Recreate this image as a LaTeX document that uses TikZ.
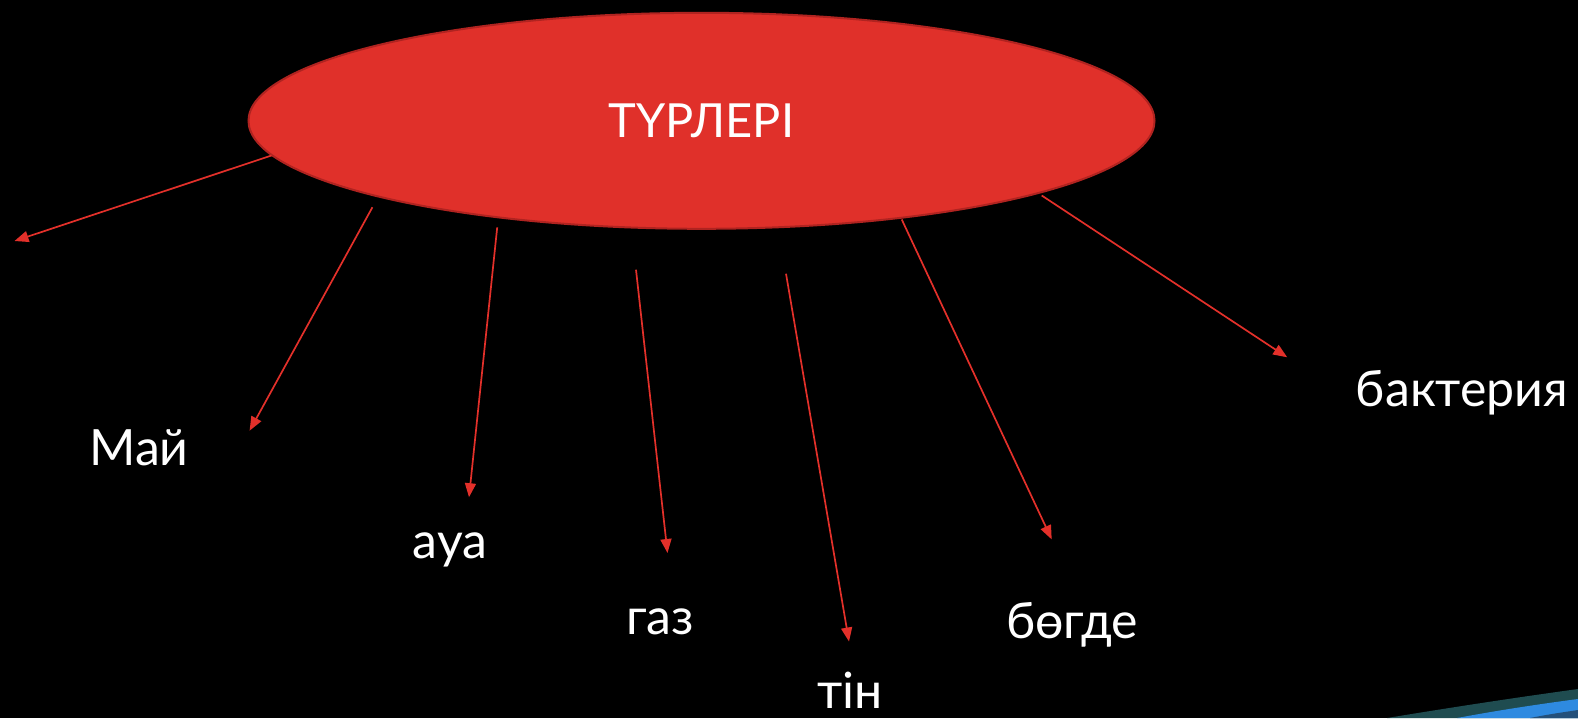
\documentclass[tikz,border=0pt]{standalone}
\usepackage{fontspec}
\setmainfont{Lato}
\usetikzlibrary{arrows.meta,shapes.geometric}
\definecolor{elred}{HTML}{E0302A}
\definecolor{eledge}{HTML}{B02320}
\definecolor{arrred}{HTML}{E3302A}
\definecolor{swteal}{HTML}{1F4C50}
\definecolor{swblue}{HTML}{2E8AE0}
\definecolor{swdark}{HTML}{24507A}
\tikzset{
  bigoval/.style={ellipse, fill=elred, draw=eledge, line width=2pt,
    minimum width=906pt, minimum height=216pt, inner sep=0pt,
    text=white, font=\fontsize{47}{56}\selectfont},
  lbl/.style={text=white, anchor=base, inner sep=0pt,
    font=\fontsize{50}{60}\selectfont},
  arr/.style={draw=arrred, line width=1.7pt,
    -{Triangle[length=14pt,width=11pt]}}
}
\begin{document}
\begin{tikzpicture}[x=1pt,y=-1pt]
\fill[black] (0,0) rectangle (1578,718);
\useasboundingbox (0,0) rectangle (1578,718);
% decorative swoosh
\fill[swteal] (1387,718) .. controls (1460,706) and (1520,697) .. (1578,689) -- (1578,718) -- cycle;
\fill[swblue] (1457,718) .. controls (1500,710) and (1540,704) .. (1578,699) -- (1578,718) -- cycle;
\fill[swdark] (1530,718) .. controls (1550,714) and (1565,712) .. (1578,710) -- (1578,718) -- cycle;

\node[bigoval] (oval) at (701.5,120.8) {ТҮРЛЕРІ};

\node[lbl] (maj) at (139,465.7) {Май};
\node[lbl] (aua) at (450,558) {ауа};
\node[lbl] (gaz) at (660,634) {газ};
\node[lbl] (tin) at (850,708) {тін};
\node[lbl] (bogde) at (1072,638) {бөгде};
\node[lbl] (bakt) at (1462,406.5) {бактерия};

\coordinate (s1) at (271.5,155.5);
\coordinate (e1) at (14.5,241);
\coordinate (s2) at (372.4,207.3);
\coordinate (e2) at (249.6,430.7);
\coordinate (s3) at (497.2,227.4);
\coordinate (e3) at (469,497.2);
\coordinate (s4) at (636,269.7);
\coordinate (e4) at (667.5,553);
\coordinate (s5) at (786,273.7);
\coordinate (e5) at (849,641.5);
\coordinate (s6) at (901.7,219.4);
\coordinate (e6) at (1051.7,539.4);
\coordinate (s7) at (1041.7,195.5);
\coordinate (e7) at (1287.2,357.3);

\draw[arr] (s1) -- (e1);
\draw[arr] (s2) -- (e2);
\draw[arr] (s3) -- (e3);
\draw[arr] (s4) -- (e4);
\draw[arr] (s5) -- (e5);
\draw[arr] (s6) -- (e6);
\draw[arr] (s7) -- (e7);
\end{tikzpicture}
\end{document}
